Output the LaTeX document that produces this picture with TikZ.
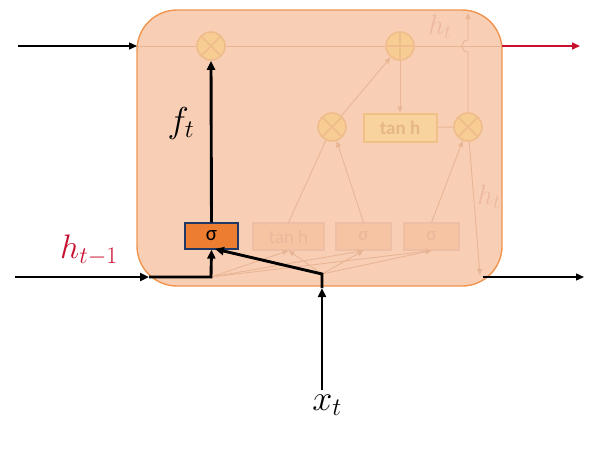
\RequirePackage{fix-cm}
\documentclass[tikz,border=0pt]{standalone}
\usepackage{fontspec}
\newfontfamily\carl{Carlito}
\usetikzlibrary{arrows.meta}
\definecolor{cellfill}{HTML}{F8CFB4}
\definecolor{cellline}{HTML}{F0944E}
\definecolor{fline}{HTML}{E9B597}
\definecolor{cfill}{HTML}{F8CD94}
\definecolor{cline}{HTML}{EFBC8C}
\definecolor{tfill}{HTML}{F9D39E}
\definecolor{tline}{HTML}{EFC088}
\definecolor{ttext}{HTML}{E6B588}
\definecolor{gfill}{HTML}{F6C4A3}
\definecolor{gline}{HTML}{EEBFA4}
\definecolor{gtext}{HTML}{EAB89C}
\definecolor{htext}{HTML}{EDB9A1}
\definecolor{sgfill}{HTML}{ED7D31}
\definecolor{sgline}{HTML}{1F3864}
\definecolor{redline}{HTML}{C8102E}
\tikzset{
  cellbox/.style={draw=cellline, fill=cellfill, line width=1.4pt, rounded corners=40pt, inner sep=0pt},
  faint/.style={draw=fline, line width=0.9pt},
  ftip/.style={-{Triangle[length=6pt,width=5pt]}},
  thickline/.style={draw=black, line width=2.9pt},
  ttip/.style={-{Triangle[length=9pt,width=8pt]}},
  thinline/.style={draw=black, line width=1.3pt},
  stip/.style={-{Triangle[length=8pt,width=7pt]}},
  opcirc/.style={circle, minimum size=28pt, inner sep=0pt, draw=cline, fill=cfill, line width=1.6pt},
  mulop/.style={opcirc, path picture={\draw[cline, line width=1.6pt]
     (path picture bounding box.north west) -- (path picture bounding box.south east)
     (path picture bounding box.south west) -- (path picture bounding box.north east);}},
  addop/.style={opcirc, path picture={\draw[cline, line width=1.6pt]
     (path picture bounding box.north) -- (path picture bounding box.south)
     (path picture bounding box.west) -- (path picture bounding box.east);}},
  tanhbox/.style={draw=tline, fill=tfill, line width=2pt, minimum width=73pt, minimum height=28pt, inner sep=0pt, text=ttext, font=\carl\bfseries\fontsize{19}{19}\selectfont},
  gatebox/.style={draw=gline, fill=gfill, line width=1.2pt, minimum height=27pt, inner sep=0pt, text=gtext, font=\carl\fontsize{19}{19}\selectfont},
  sgbox/.style={draw=sgline, fill=sgfill, line width=1.3pt, minimum width=53pt, minimum height=26pt, inner sep=0pt, text=black, font=\carl\fontsize{21}{21}\selectfont},
  mathlab/.style={inner sep=0pt, font=\fontsize{36}{36}\selectfont},
}
\begin{document}
\begin{tikzpicture}[x=1pt,y=-1pt]
\useasboundingbox (0,0) rectangle (614,448);
% cell
\node[cellbox, minimum width=365pt, minimum height=276pt] (cell) at (319.5,148) {};
% coordinates
\coordinate (inL) at (18,46);
\coordinate (cL) at (137,46);
\coordinate (cR) at (502,46);
\coordinate (outT) at (580,46);
\coordinate (hin) at (15,277);
\coordinate (hmid) at (149,277);
\coordinate (hj) at (211,277);
\coordinate (xin) at (322,390);
\coordinate (xmid) at (322,288);
\coordinate (xj) at (322,274);
\coordinate (sgin) at (215,249);
\coordinate (oB) at (483,277);
\coordinate (outB) at (584,277);
\coordinate (hb) at (480,275);
\coordinate (hopA) at (468,52);
\coordinate (hopB) at (468,40);
\coordinate (htop) at (468,13);
% operators and gates
\node[mulop] (m1) at (211,46) {};
\node[addop] (p1) at (400,46) {};
\node[mulop] (m2) at (332,127) {};
\node[tanhbox] (th2) at (400,127.5) {tan h};
\node[mulop] (m3) at (468,127) {};
\node[gatebox, minimum width=71pt] (tg) at (288.5,236.5) {tan h};
\node[gatebox, minimum width=55pt] (s2) at (363.5,236.5) {σ};
\node[gatebox, minimum width=55pt] (s3) at (431.5,236.5) {σ};
\node[sgbox] (sg) at (211.5,236) {σ};
% faint connectors
\draw[faint] (cL) -- (m1) -- (p1) -- (cR);
\draw[faint] (tg.north) -- (m2);
\draw[faint, ftip] (s2.north) -- (m2);
\draw[faint, ftip] (s3.north) -- (m3);
\draw[faint, ftip] (m2) -- (p1);
\draw[faint, ftip] (p1) -- (th2);
\draw[faint] (th2) -- (m3);
\draw[faint, ftip] (m3) -- (hopA) .. controls (460,52) and (460,40) .. (hopB) -- (htop);
\draw[faint, ftip] (m3) -- (hb);
\foreach \g in {tg,s2,s3} {
  \draw[faint, ftip] (hj) -- (\g.south);
  \draw[faint, ftip] (xj) -- (\g.south);
}
% faint labels
\node[mathlab, text=htext, font=\fontsize{28}{28}\selectfont] (ht1) at (440,27) {$h_t$};
\node[mathlab, text=htext, font=\fontsize{28}{28}\selectfont] (ht2) at (489,197) {$h_t$};
% black connectors
\draw[thinline, stip] (inL) -- (cL);
\draw[redline, line width=1.6pt, stip] (cR) -- (outT);
\draw[thinline, stip] (oB) -- (outB);
\draw[thickline, ttip] (sg.north) -- (m1.south);
\draw[thickline, ttip] (hin) -- (hmid);
\draw[thickline, ttip] (hmid) -- (hj) -- (sg.south);
\draw[thickline, ttip] (xin) -- (xmid);
\draw[thickline, ttip] (xmid) -- (xj) -- (sgin);
% labels
\node[mathlab] (ft) at (181,123) {$f_t$};
\node[mathlab] (xt) at (327,405) {$x_t$};
\node[mathlab, text=redline, font=\fontsize{34}{34}\selectfont] (htm) at (89,250) {$h_{t-1}$};
\end{tikzpicture}
\end{document}
